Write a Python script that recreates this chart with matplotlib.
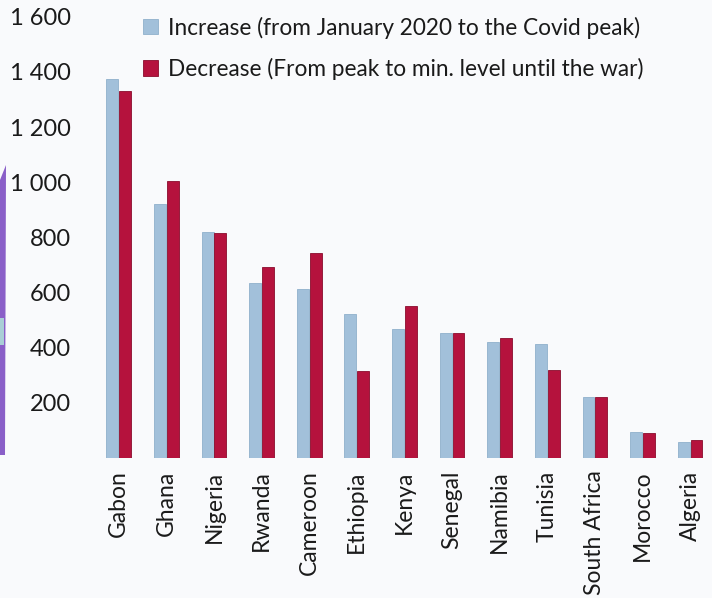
import matplotlib
matplotlib.use("Agg")
import matplotlib.pyplot as plt
import numpy as np
from matplotlib.patches import Rectangle, Polygon

countries = ["Gabon", "Ghana", "Nigeria", "Rwanda", "Cameroon", "Ethiopia", "Kenya",
             "Senegal", "Namibia", "Tunisia", "South Africa", "Morocco", "Algeria"]
increase = [1373, 920, 819, 634, 612, 522, 467, 453, 420, 413, 221, 94, 58]
decrease = [1330, 1004, 815, 692, 743, 315, 551, 453, 435, 319, 221, 91, 65]
yticks = [200, 400, 600, 800, 1000, 1200, 1400, 1600]
ytick_labels = ["200", "400", "600", "800", "1 000", "1 200", "1 400", "1 600"]

label_inc = "Increase (from January 2020 to the Covid peak)"
label_dec = "Decrease (From peak to min. level until the war)"

blue = "#a2c0da"
blue_edge = "#8fb0cc"
red = "#b5123d"
red_edge = "#8a0c2c"
bg = "#f9fafc"

plt.rcParams["font.family"] = ["Lato", "DejaVu Sans"]

fig = plt.figure(figsize=(7.12, 5.98), dpi=100, facecolor=bg)
ax = fig.add_axes([0.1334, 0.2341, 0.8666, 0.761], facecolor=bg)

x = np.arange(len(countries))
w = 0.25
gap = 0.02
ax.bar(x - w / 2 - gap / 2, increase, width=w, color=blue, edgecolor=blue_edge,
       linewidth=0.6, label=label_inc)
ax.bar(x + w / 2 + gap / 2, decrease, width=w, color=red, edgecolor=red_edge,
       linewidth=0.6, label=label_dec)

ax.set_xlim(-0.5, 12.46)
ax.set_ylim(0, 1650)
ax.set_yticks(yticks)
ax.set_yticklabels(ytick_labels, fontsize=17, color="#1a1a1a")
ax.set_xticks(x)
ax.set_xticklabels(countries, rotation=90, fontsize=16.5, color="#1a1a1a")
ax.tick_params(axis="both", length=0)
ax.tick_params(axis="y", pad=17)
ax.tick_params(axis="x", pad=9)
for s in ax.spines.values():
    s.set_visible(False)

leg = ax.legend(loc="upper left", bbox_to_anchor=(0.063, 0.99), frameon=False,
                fontsize=16.3, handlelength=0.65, handleheight=0.65, handletextpad=0.45,
                labelspacing=0.85, borderaxespad=0)
for t in leg.get_texts():
    t.set_color("#1a1a1a")

# strip of a neighbouring panel along the left edge
fig.patches.append(Polygon([[0, 1 - 455 / 598], [5 / 712, 1 - 455 / 598],
                            [6 / 712, 1 - 165 / 598], [0, 1 - 180 / 598]],
                           closed=True, transform=fig.transFigure,
                           facecolor="#8a5fc8", edgecolor="none"))
fig.patches.append(Rectangle((0, 1 - 345 / 598), 4 / 712, 27 / 598,
                             transform=fig.transFigure,
                             facecolor="#a9cfd6", edgecolor="none"))

fig.savefig("out.png", dpi=100, facecolor=bg)
